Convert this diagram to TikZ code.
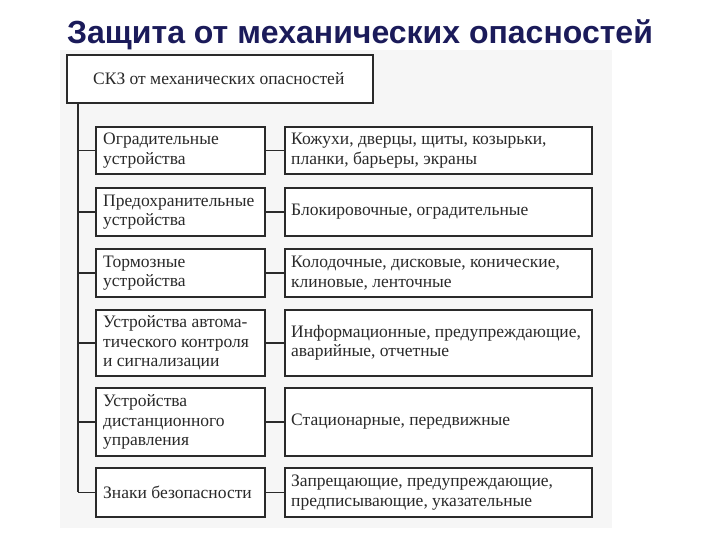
\documentclass[tikz,border=0pt]{standalone}
\usepackage{fontspec}
\setmainfont{Liberation Serif}
\newfontfamily\titlefont{Liberation Sans}
\definecolor{ttl}{HTML}{1B1B5A}
\definecolor{ink}{HTML}{2A2A2A}
\begin{document}
\begin{tikzpicture}[x=1pt,y=-1pt,
  bx/.style={draw=ink,line width=1.2pt,fill=white,inner sep=0pt},
  lab/.style={anchor=west,align=left,font=\fontsize{17.5}{19.5}\selectfont,text=ink,inner sep=0pt},
  ln/.style={draw=ink,line width=1.6pt}]
\useasboundingbox (0,0) rectangle (720,540);
\fill[gray!7] (60,50) rectangle (612,528);
\node[font=\titlefont\bfseries\fontsize{32}{36}\selectfont,text=ttl] (title) at (360,35) {Защита от механических опасностей};
\draw[bx] (67,55) rectangle (373,103);
\draw[ink,line width=1.2pt] (68,103.8)--(373.8,103.8)--(373.8,56);
\node[lab] (top) at (93,79) {СКЗ от механических опасностей};
\coordinate (vt) at (78,104);
\coordinate (vb) at (78,492);
\draw[ln] (vt)--(vb);
\foreach \i/\ya/\yb/\l/\r in {
 1/127/174/{Оградительные\\устройства}/{Кожухи, дверцы, щиты, козырьки,\\планки, барьеры, экраны},
 2/188/236/{Предохранительные\\устройства}/{Блокировочные, оградительные},
 3/249/297/{Тормозные\\устройства}/{Колодочные, дисковые, конические,\\клиновые, ленточные},
 4/310/376/{Устройства автома-\\тического контроля\\и сигнализации}/{Информационные, предупреждающие,\\аварийные, отчетные},
 5/388/456/{Устройства\\дистанционного\\управления}/{Стационарные, передвижные},
 6/468/517/{Знаки безопасности}/{Запрещающие, предупреждающие,\\предписывающие, указательные}}{
  \draw[bx] (96,\ya) rectangle (265,\yb);
  \draw[ink,line width=1.2pt] (97,\yb+0.8)--(265.8,\yb+0.8)--(265.8,\ya+1);
  \draw[bx] (285,\ya) rectangle (592,\yb);
  \draw[ink,line width=1.2pt] (286,\yb+0.8)--(592.8,\yb+0.8)--(592.8,\ya+1);
  \node[lab] (L\i) at (103,{(\ya+\yb)/2}) {\l};
  \node[lab] (R\i) at (291,{(\ya+\yb)/2}) {\r};
  \coordinate (m\i) at (78,{(\ya+\yb)/2});
  \coordinate (a\i) at (96,{(\ya+\yb)/2});
  \coordinate (b\i) at (265,{(\ya+\yb)/2});
  \coordinate (c\i) at (285,{(\ya+\yb)/2});
  \draw[ln] (m\i)--(a\i);
  \draw[ln] (b\i)--(c\i);
}
\end{tikzpicture}
\end{document}
